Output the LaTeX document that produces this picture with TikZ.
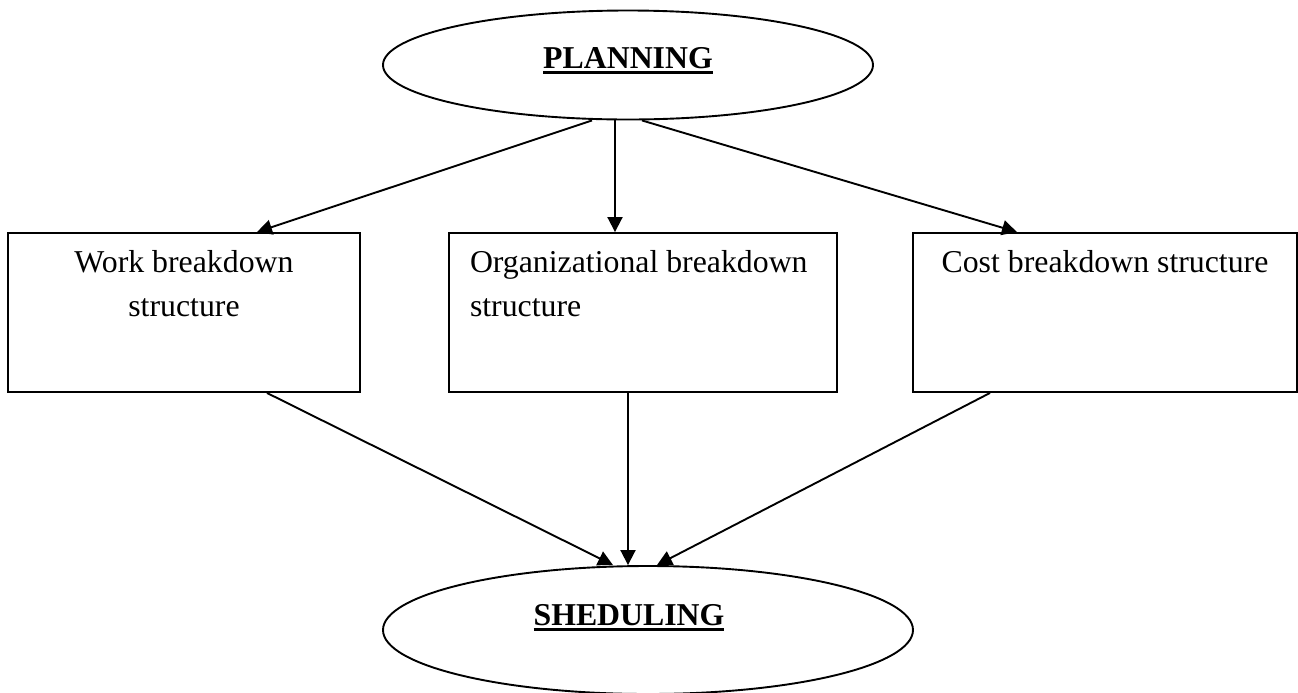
\documentclass[tikz,border=0pt]{standalone}
\usepackage{fontspec}
\setmainfont{Liberation Serif}
\usetikzlibrary{shapes.geometric,arrows.meta}
\newsavebox{\ulbox}
\newcommand{\heavyul}[1]{\sbox{\ulbox}{#1}\rlap{\rule[-3pt]{\wd\ulbox}{1.4pt}}\usebox{\ulbox}}

\begin{document}
\begin{tikzpicture}[x=0.5pt,y=-0.5pt,line width=0.95pt,
        font=\fontsize{15.9}{22}\selectfont,
        oval/.style={draw,ellipse,inner sep=0pt},
        bdsbox/.style={draw,rectangle,minimum height=79.5pt,inner sep=0pt},
        boxtext/.style={inner sep=0pt},
        arr/.style={-{Triangle[length=7.5pt,width=7.5pt]}}]
    \useasboundingbox (0,0) rectangle (1298,692);
    % top and bottom ovals
    \node[oval,minimum width=245pt,minimum height=54.5pt] (plan) at (628,65) {};
    \node[oval,minimum width=265pt,minimum height=64pt] (sched) at (648,630) {};
    \node[boxtext,anchor=base] (plantext) at (628,68) {\heavyul{\textbf{PLANNING}}};
    \node[boxtext,anchor=base] (schedtext) at (629,625) {\heavyul{\textbf{SHEDULING}}};
    % the three breakdown boxes
    \node[bdsbox,minimum width=176pt] (wbs) at (184,312.5) {};
    \node[bdsbox,minimum width=194pt] (obs) at (643,312.5) {};
    \node[bdsbox,minimum width=192pt] (cbs) at (1105,312.5) {};
    \node[boxtext,anchor=base,align=center] (wbstext) at ([yshift=-42pt]wbs.north) {Work breakdown\\structure};
    \node[boxtext,anchor=base west,align=left] (obstext) at ([xshift=10.5pt,yshift=-42pt]obs.north west) {Organizational breakdown\\structure};
    \node[boxtext,anchor=base] (cbstext) at ([yshift=-20pt]cbs.north) {Cost breakdown structure};
    % arrows
    \draw[arr] ([xshift=-18pt]plan.south) -- ([xshift=36.5pt]wbs.north);
    \draw[arr] ([xshift=-6.5pt]plan.south) -- ([xshift=-14pt]obs.north);
    \draw[arr] ([xshift=7pt]plan.south) -- ([xshift=-44pt]cbs.north);
    \draw[arr] ([xshift=41.5pt]wbs.south) -- ([xshift=-17.5pt]sched.north);
    \draw[arr] ([xshift=-7.5pt]obs.south) -- ([xshift=-10pt]sched.north);
    \draw[arr] ([xshift=-57.5pt]cbs.south) -- ([xshift=4.5pt]sched.north);
\end{tikzpicture}
\end{document}
